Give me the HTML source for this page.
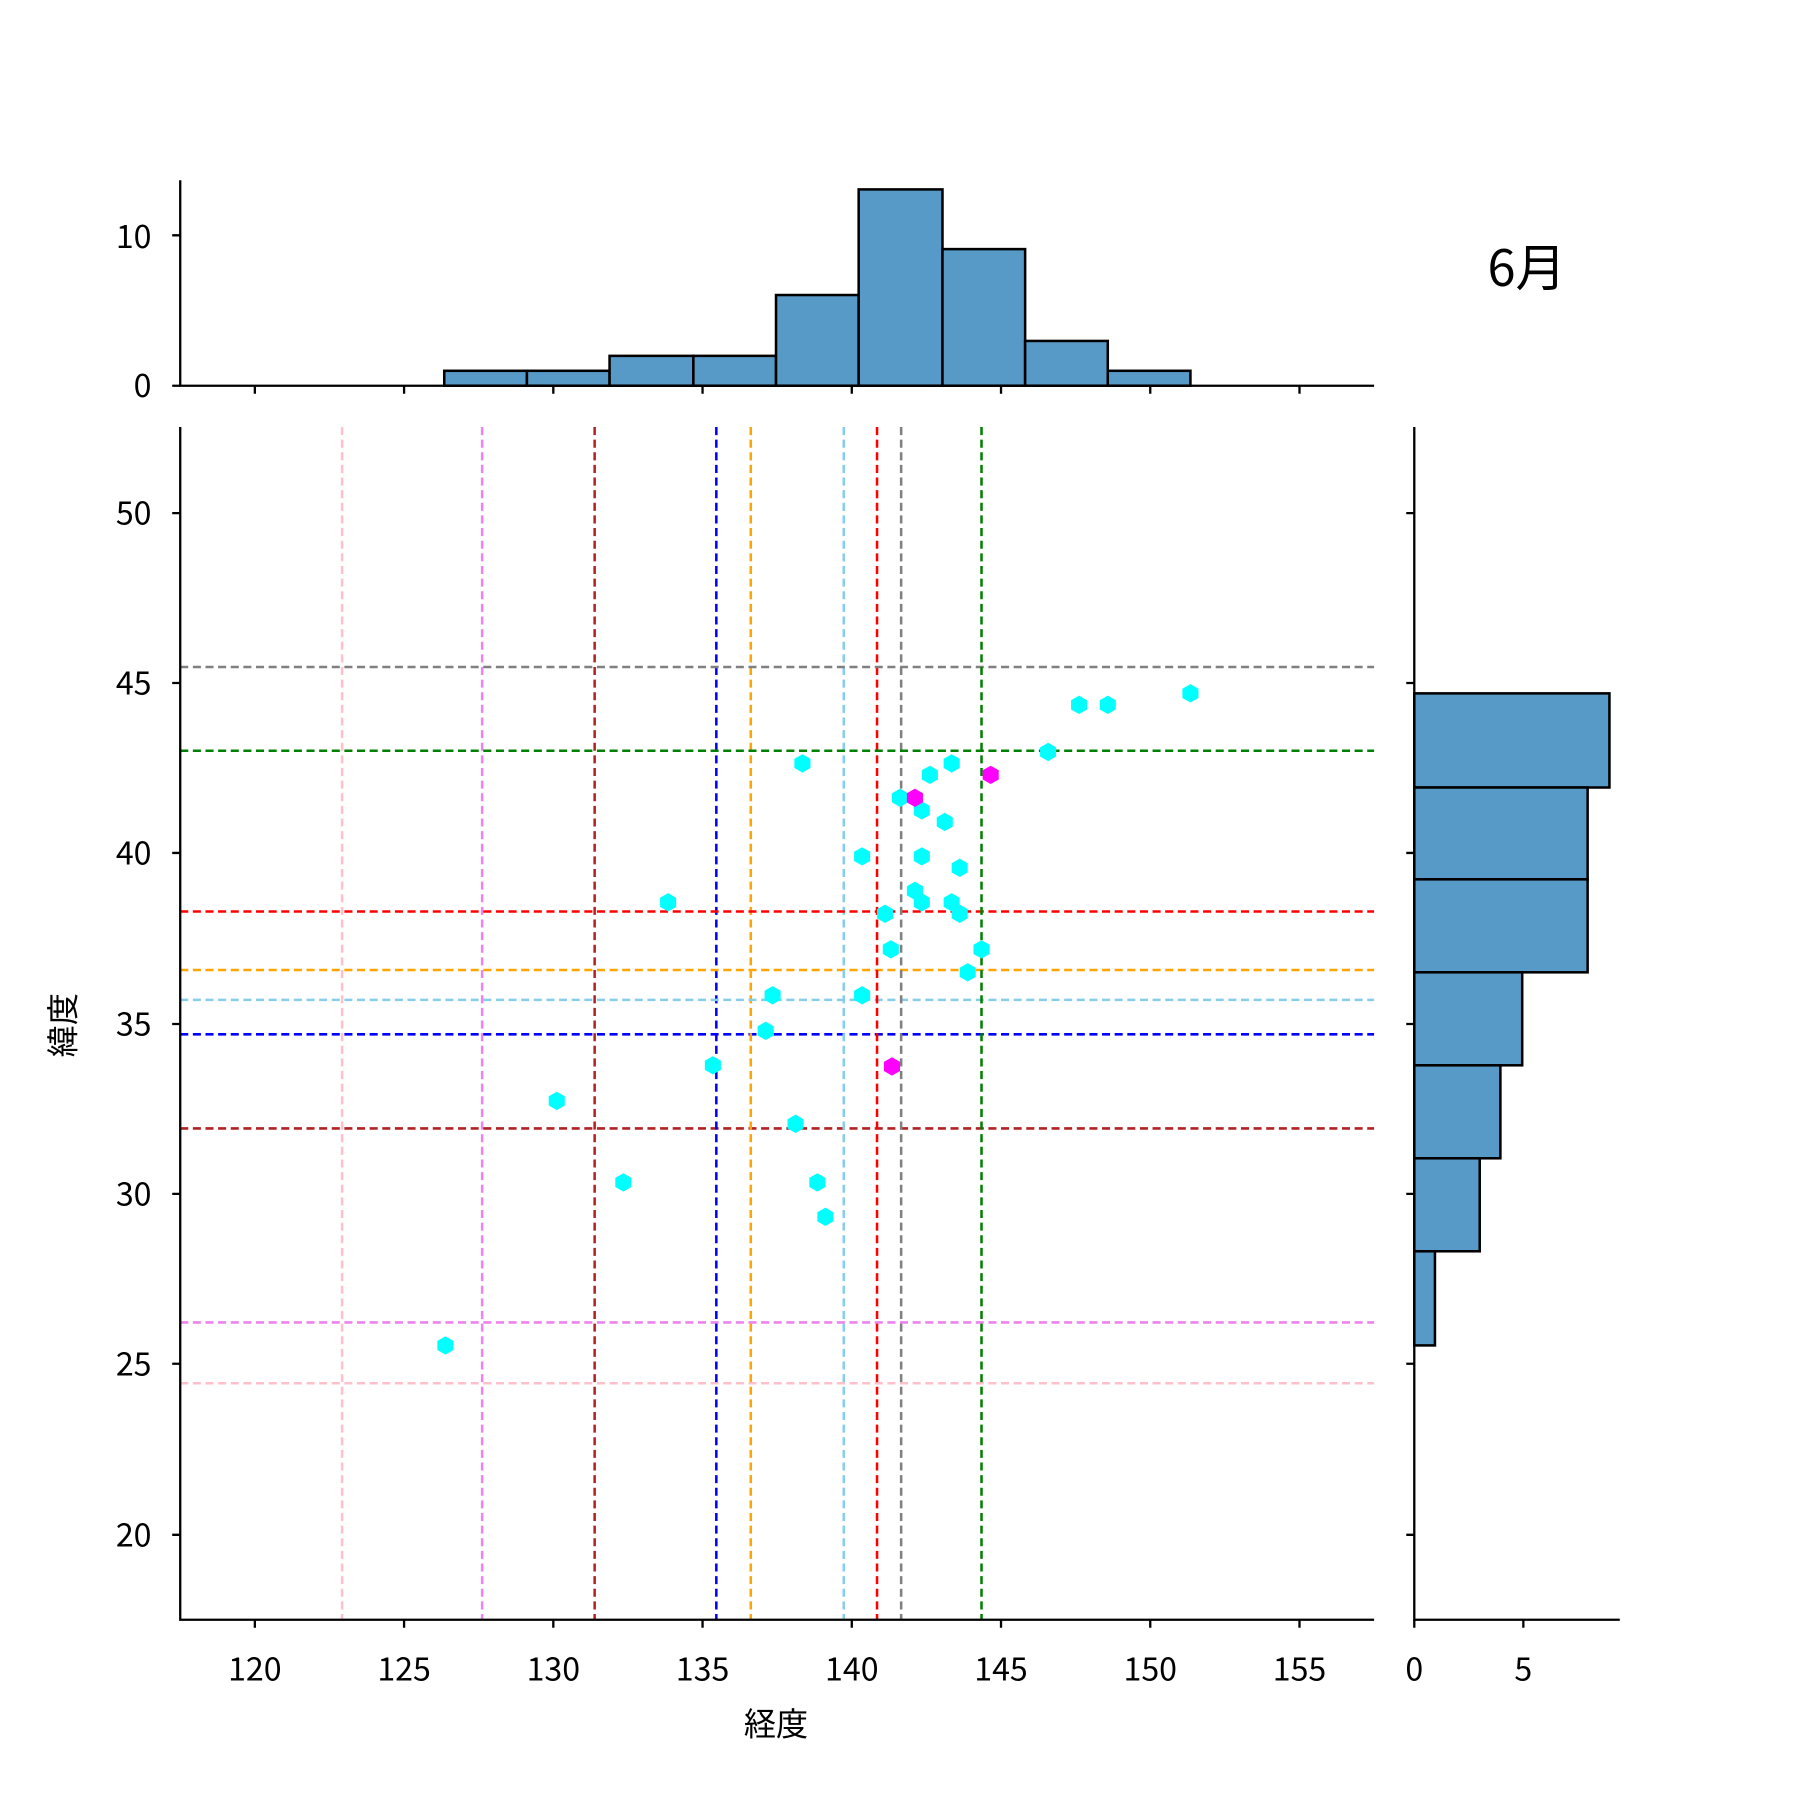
<!DOCTYPE html><html><head><style>body{margin:0;background:#fff}svg{display:block}text{font-family:"Noto Sans CJK JP","Liberation Sans",sans-serif;fill:#000}</style></head><body>
<svg width="1800" height="1800" viewBox="0 0 1568 1568" xmlns="http://www.w3.org/2000/svg">
<defs><polygon id="h" points="0,-8 7,-4 7,4 0,8 -7,4 -7,-4"/></defs>
<g fill="#5799c7" stroke="#000" stroke-width="2.2">
<rect x="387" y="323" width="72" height="13"/><rect x="459" y="323" width="72" height="13"/>
<rect x="531" y="310" width="73" height="26"/><rect x="604" y="310" width="72" height="26"/>
<rect x="676" y="257" width="72" height="79"/><rect x="748" y="165" width="73" height="171"/>
<rect x="821" y="217" width="72" height="119"/><rect x="893" y="297" width="72" height="39"/>
<rect x="965" y="323" width="72" height="13"/>
</g>
<g stroke="#000" stroke-width="2" fill="none">
<path d="M157,157V336H1197"/><path d="M150,336H157M150,205H157"/>
<path d="M222,336v7M352,336v7M482,336v7M612,336v7M742,336v7M872,336v7M1002,336v7M1132,336v7"/>
</g>
<g font-size="28" text-anchor="end"><text x="132" y="346">0</text><text x="132" y="216">10</text></g>
<text x="1330" y="249" font-size="44" text-anchor="middle">6月</text>
<g fill="#5799c7" stroke="#000" stroke-width="2.2">
<rect x="1232" y="604" width="170" height="82"/><rect x="1232" y="686" width="151" height="80"/>
<rect x="1232" y="766" width="151" height="81"/><rect x="1232" y="847" width="94" height="81"/>
<rect x="1232" y="928" width="75" height="81"/><rect x="1232" y="1009" width="57" height="81"/>
<rect x="1232" y="1090" width="18" height="82"/>
</g>
<g stroke="#000" stroke-width="2" fill="none">
<path d="M1232,372V1411H1411"/><path d="M1232,1411v7M1327,1411v7"/>
<path d="M1225,447h7M1225,595h7M1225,743h7M1225,892h7M1225,1040h7M1225,1188h7M1225,1337h7"/>
</g>
<g font-size="28" text-anchor="middle"><text x="1232" y="1464">0</text><text x="1327" y="1464">5</text></g>
<g stroke-width="2.2" stroke-dasharray="7,4" fill="none">
<path stroke="#ffc0cb" d="M298,372V1411M157,1205H1197"/>
<path stroke="#ee82ee" d="M420,372V1411M157,1152H1197"/>
<path stroke="#b22222" d="M518,372V1411M157,983H1197"/>
<path stroke="#0000ff" d="M624,372V1411M157,901H1197"/>
<path stroke="#ffa500" d="M654,372V1411M157,845H1197"/>
<path stroke="#87ceeb" d="M735,372V1411M157,871H1197"/>
<path stroke="#ff0000" d="M764,372V1411M157,794H1197"/>
<path stroke="#808080" d="M785,372V1411M157,581H1197"/>
<path stroke="#008000" d="M855,372V1411M157,654H1197"/>
</g>
<g fill="#00ffff">
<use href="#h" x="1037" y="604"/><use href="#h" x="940" y="614"/><use href="#h" x="965" y="614"/><use href="#h" x="913" y="655"/><use href="#h" x="699" y="665"/><use href="#h" x="829" y="665"/><use href="#h" x="810" y="675"/><use href="#h" x="784" y="695"/><use href="#h" x="803" y="706"/><use href="#h" x="823" y="716"/><use href="#h" x="751" y="746"/><use href="#h" x="803" y="746"/><use href="#h" x="836" y="756"/><use href="#h" x="582" y="786"/><use href="#h" x="797" y="776"/><use href="#h" x="803" y="786"/><use href="#h" x="829" y="786"/><use href="#h" x="771" y="796"/><use href="#h" x="836" y="796"/><use href="#h" x="776" y="827"/><use href="#h" x="855" y="827"/><use href="#h" x="843" y="847"/><use href="#h" x="673" y="867"/><use href="#h" x="751" y="867"/><use href="#h" x="667" y="898"/><use href="#h" x="621" y="928"/><use href="#h" x="485" y="959"/><use href="#h" x="693" y="979"/><use href="#h" x="543" y="1030"/><use href="#h" x="712" y="1030"/><use href="#h" x="719" y="1060"/><use href="#h" x="388" y="1172"/>
</g>
<g fill="#ff00ff"><use href="#h" x="863" y="675"/><use href="#h" x="797" y="695"/><use href="#h" x="777" y="929"/></g>
<g stroke="#000" stroke-width="2" fill="none">
<path d="M157,372V1411H1197"/>
<path d="M222,1411v7M352,1411v7M482,1411v7M612,1411v7M742,1411v7M872,1411v7M1002,1411v7M1132,1411v7"/>
<path d="M150,447h7M150,595h7M150,743h7M150,892h7M150,1040h7M150,1188h7M150,1337h7"/>
</g>
<g font-size="28" text-anchor="middle">
<text x="222" y="1464">120</text><text x="352" y="1464">125</text><text x="482" y="1464">130</text><text x="612" y="1464">135</text><text x="742" y="1464">140</text><text x="872" y="1464">145</text><text x="1002" y="1464">150</text><text x="1132" y="1464">155</text>
</g>
<g font-size="28" text-anchor="end">
<text x="132" y="457">50</text><text x="132" y="605">45</text><text x="132" y="753">40</text><text x="132" y="902">35</text><text x="132" y="1050">30</text><text x="132" y="1198">25</text><text x="132" y="1347">20</text>
</g>
<text x="676" y="1512" font-size="28" text-anchor="middle">経度</text>
<text transform="translate(65,893) rotate(-90)" font-size="28" text-anchor="middle">緯度</text>
</svg></body></html>
